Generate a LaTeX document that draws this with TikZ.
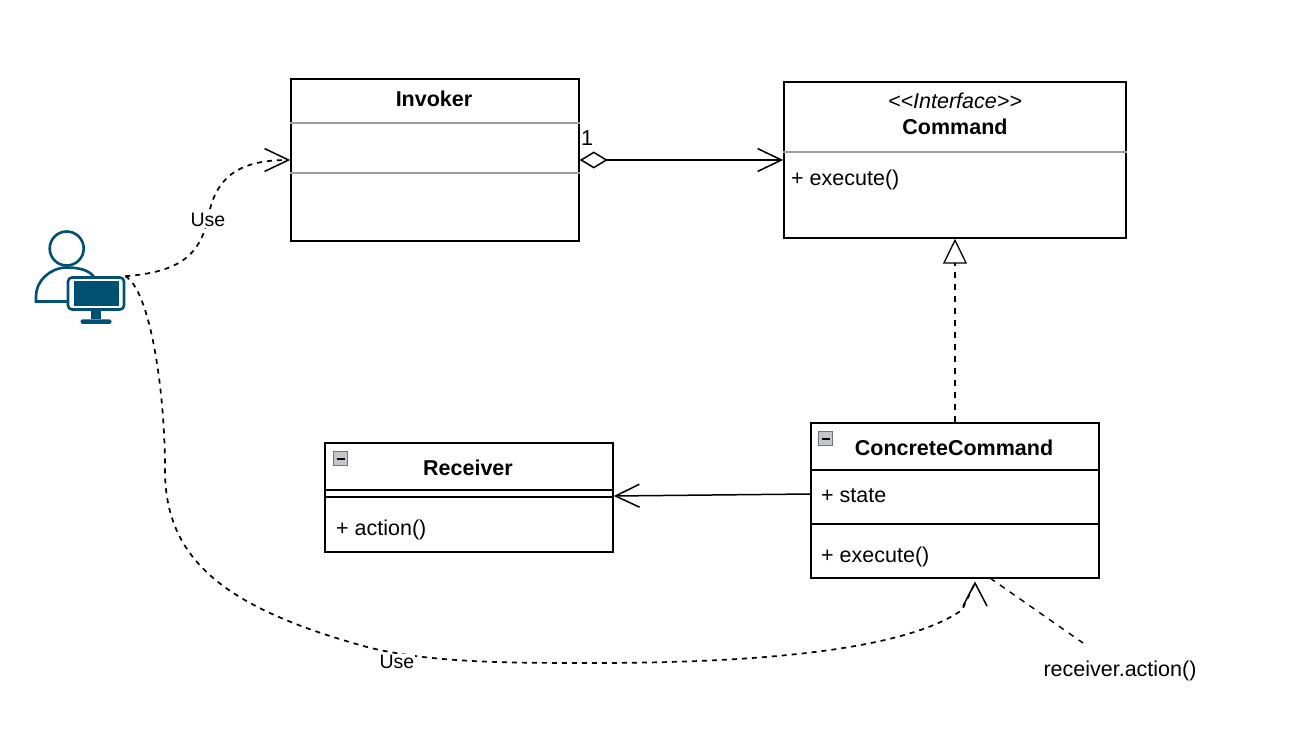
\documentclass[tikz,border=0pt]{standalone}
\usepackage{fontspec}
\setmainfont{Liberation Sans}
\usetikzlibrary{positioning,arrows.meta}
\definecolor{iconblue}{HTML}{005073}
\definecolor{toggleedge}{HTML}{70747F}
\definecolor{togglefill}{HTML}{C4C6CC}
\tikzset{
  umlbox/.style={draw,line width=1.5pt,fill=white,inner sep=0pt},
  umltext/.style={font=\fontsize{21.5}{25}\selectfont,inner sep=0pt},
  umltitle/.style={umltext,font=\fontsize{21.5}{25}\selectfont\bfseries},
  uselabel/.style={fill=white,inner sep=1pt,font=\fontsize{19.5}{23}\selectfont},
  divider/.style={line width=1.2pt},
  softdivider/.style={line width=1.5pt,black!38},
  openhead/.style={-{Straight Barb[length=24pt,width=23pt,line width=1.5pt]}},
  usewire/.style={line width=1.7pt,dash pattern=on 5pt off 5pt},
  notewire/.style={line width=1.4pt,dash pattern=on 6pt off 6pt},
  togglebox/.style={draw=toggleedge,fill=togglefill,line width=1.2pt,minimum size=14pt,inner sep=0pt},
  usericon/.style={draw=iconblue,line width=2.6pt}
}
\begin{document}
\begin{tikzpicture}[x=1pt,y=-1pt]
  \useasboundingbox (0,0) rectangle (1302,746);
  \node[umlbox,minimum width=288pt,minimum height=162pt] (invoker) at (435,160) {};
  \node[umlbox,minimum width=342pt,minimum height=156pt] (command) at (955,160) {};
  \node[umlbox,minimum width=288pt,minimum height=155pt] (concrete) at (955,500.5) {};
  \node[umlbox,minimum width=288pt,minimum height=109pt] (receiver) at (469,497.5) {};

  \draw[softdivider] (invoker.west |- 0,123) -- (invoker.east |- 0,123);
  \draw[softdivider] (invoker.west |- 0,173) -- (invoker.east |- 0,173);
  \draw[softdivider] (command.west |- 0,152) -- (command.east |- 0,152);
  \draw[divider] (concrete.west |- 0,470) -- (concrete.east |- 0,470);
  \draw[divider] (concrete.west |- 0,524) -- (concrete.east |- 0,524);
  \draw[divider] (receiver.west |- 0,490) -- (receiver.east |- 0,490);
  \draw[divider] (receiver.west |- 0,497) -- (receiver.east |- 0,497);

  \node[umltitle] (invokername) at (434,99) {Invoker};
  \node[umltext,font=\fontsize{21.5}{25}\selectfont\itshape] (stereotype) at (955,101) {{<}{<}Interface{>}{>}};
  \node[umltitle] (commandname) [below=10pt of stereotype] {Command};
  \node[umltext,anchor=west] (commandop) at (791,179.5) {+ execute()};
  \node[umltitle] (concretename) at (954,448) {ConcreteCommand};
  \node[umltext,anchor=west] (stateattr) at (821,496) {+ state};
  \node[umltext,anchor=west] (concreteop) at (821,557) {+ execute()};
  \node[umltitle] (receivername) at (468,468) {Receiver};
  \node[umltext,anchor=west] (actionop) at (336,530) {+ action()};
  \node[umltext] (one) at (587,138) {1};
  \node[umltext] (note) at (1120,671) {receiver.action()};

  \foreach \tname/\tpos in {recvtoggle/{(340.5,458.5)},concretetoggle/{(825.5,438.5)}} {
    \node[togglebox] (\tname) at \tpos {};
    \draw[line width=2pt] ([xshift=-4pt]\tname.center) -- ([xshift=4pt]\tname.center);
  }

  \draw[usericon,fill=white] (36,301.5) -- (36,296) .. controls (36,281) and (50,268) .. (66,267.5) .. controls (79,267.5) and (89,270) .. (94,277) -- (94,301.5) -- cycle;
  \draw[usericon,fill=white] (66.7,248.5) circle (17);
  \node[usericon,fill=white,rounded corners=4pt,minimum width=56pt,minimum height=32pt,inner sep=0pt] (monitor) at (96,293.5) {};
  \node[fill=iconblue,minimum width=45pt,minimum height=25pt,inner sep=0pt] (screen) at (monitor.center) {};
  \node[fill=iconblue,minimum width=10pt,minimum height=8pt,inner sep=0pt] (stand) [below=0pt of monitor] {};
  \node[fill=iconblue,rounded corners=2pt,minimum width=31pt,minimum height=4.5pt,inner sep=0pt] (standbase) [below=0pt of stand] {};

  \coordinate (cmdtip) at (975,583);
  \coordinate (cmdbend) at (962,610);
  \coordinate (barbleft) at (963,606);
  \coordinate (barbright) at (987,606);
  \coordinate (notefoot) at (1083,643);
  \coordinate (notehead) at (990,578);

  \path
  (invoker.east) edge [line width=1.5pt,{Diamond[open,length=28pt,width=17pt,line width=1.5pt]}-{Straight Barb[length=24pt,width=23pt,line width=1.5pt]}] (command.west)
  (concrete.north) edge [notewire,-{Triangle[open,length=25pt,width=24pt,line width=1.3pt]}] (command.south)
  ([yshift=6.5pt]concrete.west) edge [line width=1.5pt,openhead] ([yshift=1.5pt]receiver.east)
  (notehead) edge [notewire] (notefoot)
  ;
  \draw[usewire,openhead] (monitor.north east) .. controls (180,272) and (200,255) .. (208,218) .. controls (215,180) and (235,160) .. (invoker.west);
  \draw[usewire] (monitor.north east) .. controls (150,290) and (165,390) .. (165,470) .. controls (165,560) and (225,608) .. (367,647) .. controls (430,663) and (510,663) .. (593,663) .. controls (760,663) and (905,650) .. (cmdbend) -- (cmdtip);
  \draw[line width=1.5pt] (barbleft) -- (cmdtip) -- (barbright);
  \node[uselabel] (usetop) at (208,220) {Use};
  \node[uselabel] (usebottom) at (397,662) {Use};
\end{tikzpicture}
\end{document}
